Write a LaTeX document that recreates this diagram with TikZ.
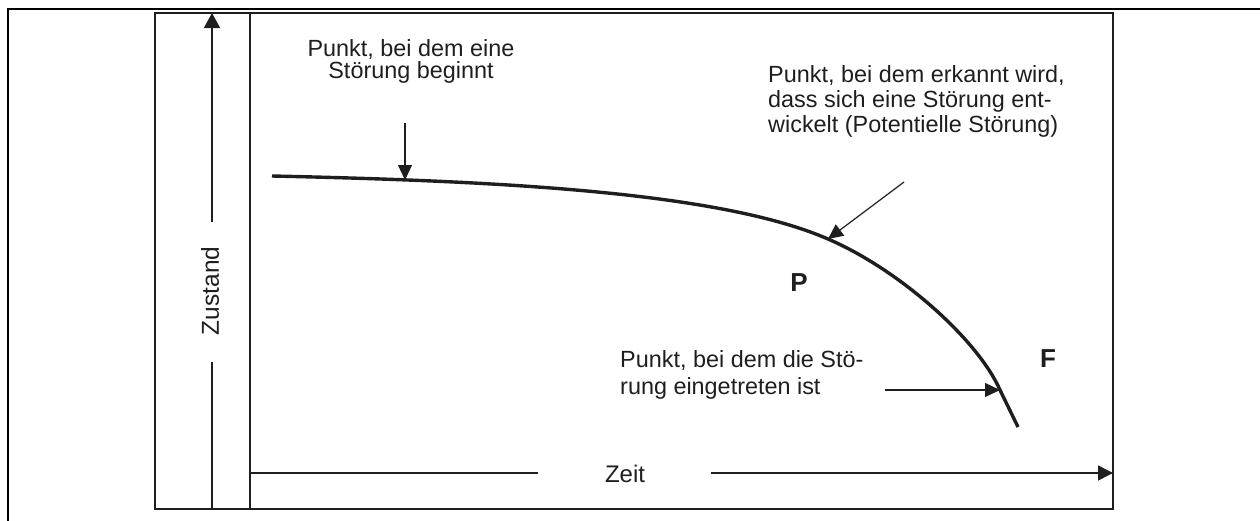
\documentclass[tikz,border=0pt]{standalone}
\usepackage{fontspec}
\setmainfont{Liberation Sans}
\usetikzlibrary{arrows.meta}
\definecolor{ink}{HTML}{1E1E1E}
\tikzset{
  frame/.style={draw=black, line width=2.5pt},
  box/.style={draw=ink, line width=1.4pt},
  axis/.style={draw=ink, line width=1.4pt},
  pointer/.style={-{Triangle[length=15pt,width=14pt]}, draw=ink, line width=1.2pt},
  curve/.style={draw=ink, line width=3.4pt},
  txt/.style={inner sep=0pt, text=ink, font=\fontsize{23.4}{25}\selectfont},
  lbl/.style={inner sep=0pt, text=ink, font=\fontsize{26}{28}\selectfont\bfseries},
}
\begin{document}
\begin{tikzpicture}[x=1pt,y=-1pt]
\useasboundingbox (0,0) rectangle (1260,520);
% outer frame (partly visible)
\coordinate (fl) at (8,522);
\coordinate (ftl) at (8,9);
\coordinate (fr) at (1262,9);
\draw[frame] (fl) -- (ftl) -- (fr);
% inner box
\coordinate (bTL) at (155,13);
\coordinate (bBR) at (1113,509);
\draw[box] (bTL) rectangle (bBR);
% inner vertical divider
\coordinate (dT) at (250,13);
\coordinate (dB) at (250,509);
\draw[box] (dT) -- (dB);
% vertical axis
\coordinate (vB) at (212,509);
\coordinate (vG1) at (212,362);
\coordinate (vG2) at (212,222);
\coordinate (vT) at (212,13);
\node[txt, font=\fontsize{24.5}{26}\selectfont, rotate=90] (zustand) at (210,291) {Zustand};
\draw[axis] (vB) -- (vG1);
\draw[axis, -{Triangle[length=15pt,width=16pt]}] (vG2) -- (vT);
% horizontal axis
\coordinate (hL) at (251,473);
\coordinate (hG1) at (538,473);
\coordinate (hG2) at (711,473);
\coordinate (hR) at (1113,473);
\node[txt, font=\fontsize{24}{26}\selectfont, anchor=base] (zeit) at (625,482) {Zeit};
\draw[axis] (hL) -- (hG1);
\draw[axis, -{Triangle[length=15pt,width=15pt]}] (hG2) -- (hR);
% curve
\coordinate (c0) at (272,176);
\coordinate (s) at (405,180);
\coordinate (p) at (828,239);
\coordinate (f) at (1000,390);
\coordinate (c9) at (1018,427);
\draw[curve] (c0) .. controls (500,181) and (720,192) .. (p)
  .. controls (900,270) and (978,340) .. (f) -- (c9);
% annotations
\node[txt, align=center, anchor=base, font=\fontsize{23.4}{21.5}\selectfont] (t1) at (411,78) {Punkt, bei dem eine\\Störung beginnt};
\coordinate (s0) at (405,123);
\draw[pointer] (s0) -- (s);
\node[txt, align=left, anchor=base west] (t2) at (768,132) {Punkt, bei dem erkannt wird,\\dass sich eine Störung ent-\\wickelt (Potentielle Störung)};
\coordinate (p0) at (904,182);
\draw[pointer] (p0) -- (p);
\node[txt, align=left, anchor=base west, font=\fontsize{23.4}{27}\selectfont] (t3) at (620,394) {Punkt, bei dem die Stö-\\rung eingetreten ist};
\coordinate (f0) at (885,390);
\draw[pointer] (f0) -- (f);
\node[lbl] (P) at (799,283) {P};
\node[lbl] (F) at (1048,359) {F};
\end{tikzpicture}
\end{document}
